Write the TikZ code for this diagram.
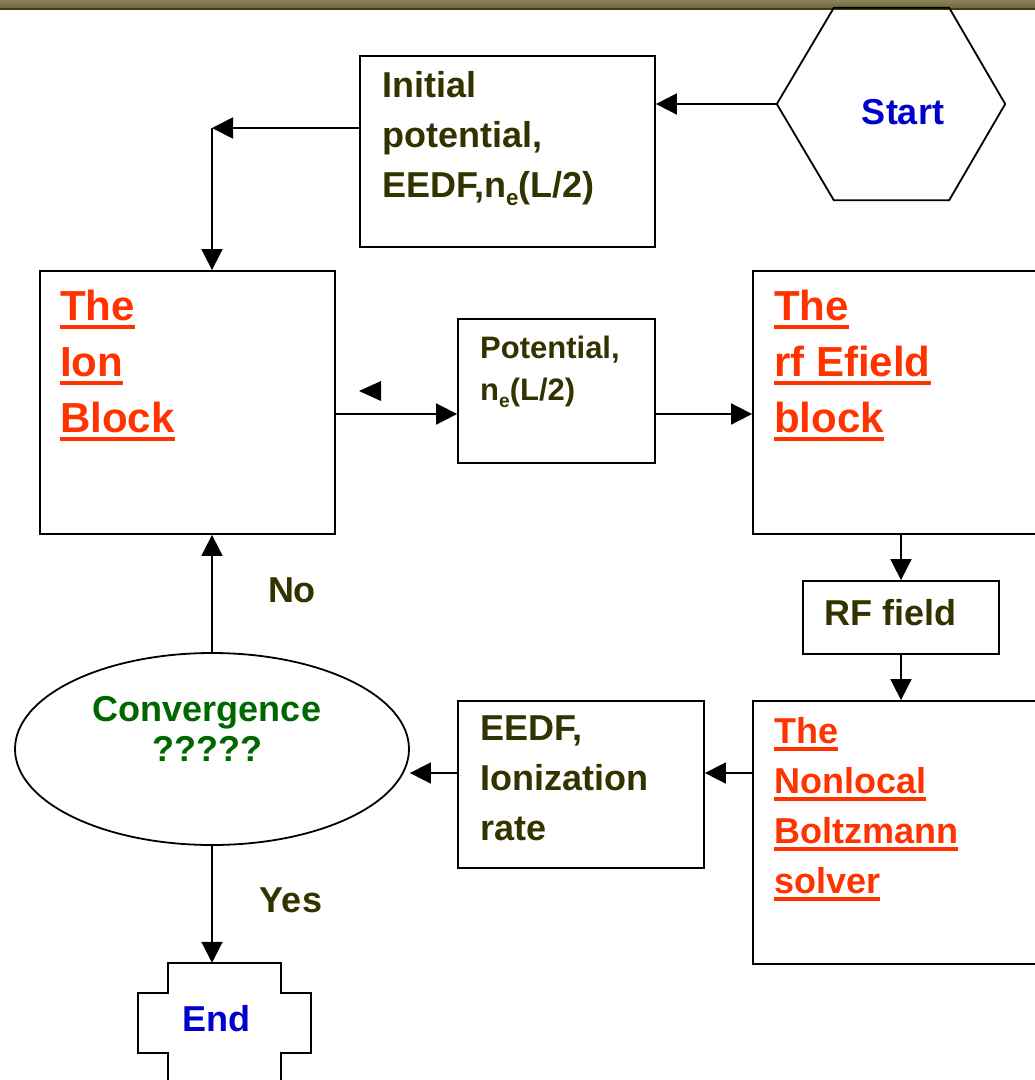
\documentclass[tikz,border=0pt]{standalone}
\usepackage{fontspec}
\setmainfont{Liberation Sans}
\usetikzlibrary{arrows.meta,shapes.geometric,calc}
\definecolor{olivetxt}{RGB}{51,51,0}
\definecolor{redtxt}{RGB}{255,51,0}
\definecolor{bluetxt}{RGB}{0,0,204}
\definecolor{greentxt}{RGB}{0,102,0}
\definecolor{bartop}{RGB}{140,128,86}
\definecolor{barbot}{RGB}{112,106,62}
\definecolor{barline}{RGB}{62,62,16}
\newcommand\ulx[1]{\setbox0=\hbox{#1}\rlap{\rule[-8pt]{\wd0}{4pt}}\box0}
\newcommand\sube{\raisebox{-0.22em}{\scalebox{0.62}{e}}}
\begin{document}
\begin{tikzpicture}[x=1pt,y=-1pt,
  box/.style={draw, line width=1.8pt, inner sep=0pt, rectangle},
  ghost/.style={inner sep=0pt, rectangle},
  arr/.style={line width=1.8pt, -{Triangle[length=21pt,width=21pt]}},
  lbl/.style={inner sep=0pt, align=left, font=\fontsize{36}{50}\selectfont\bfseries, text=olivetxt},
  ttl/.style={inner sep=0pt, align=left, font=\fontsize{42}{56}\selectfont\bfseries, text=redtxt},
  ttlb/.style={inner sep=0pt, align=left, font=\fontsize{36}{50}\selectfont\bfseries, text=redtxt}]
\useasboundingbox (0,0) rectangle (1035,1080);
\clip (0,0) rectangle (1035,1080);
% top bar
\shade[top color=bartop, bottom color=barbot] (0,0) rectangle (1035,7.5);
\fill[barline] (0,7.5) rectangle (1035,10);
% boxes
\node[box, minimum width=295pt, minimum height=191pt] (init) at (507.5,151.5) {};
\node[box, minimum width=295pt, minimum height=263pt] (ion) at (187.5,402.5) {};
\node[box, minimum width=197pt, minimum height=144pt] (pot) at (556.5,391) {};
\node[box, minimum width=287pt, minimum height=263pt] (rf) at (896.5,402.5) {};
\node[box, minimum width=196pt, minimum height=73pt] (rffield) at (901,617.5) {};
\node[box, minimum width=287pt, minimum height=263pt] (nonlocal) at (896.5,832.5) {};
\node[box, minimum width=246pt, minimum height=167pt] (eedf) at (581,784.5) {};
\node[draw, line width=1.8pt, ellipse, inner sep=0pt, minimum width=394pt, minimum height=192pt] (conv) at (212,749) {};
% start hexagon
\node[ghost, minimum width=228pt, minimum height=192pt] (start) at (891,104) {};
\draw[line width=1.8pt] (start.west) -- ($(start.north west)+(57,0)$) -- ($(start.north east)+(-56,0)$)
  -- (start.east) -- ($(start.south east)+(-56,0)$) -- ($(start.south west)+(57,0)$) -- cycle;
% end cross
\node[ghost, minimum width=113pt, minimum height=120pt] (endbox) at (224.5,1023) {};
\draw[line width=1.8pt] (endbox.north west) -- (endbox.north east) -- ++(0,30) -- ++(30,0) -- ++(0,60) -- ++(-30,0)
  -- (endbox.south east) -- (endbox.south west) -- ++(0,-30) -- ++(-30,0) -- ++(0,-60) -- ++(30,0) -- cycle;
% texts
\node[lbl, anchor=north west] (tinit) at (382,71) {Initial\\potential,\\EEDF,n\sube(L/2)};
\node[ttl, anchor=north west] (tion) at (60,290) {\ulx{The}\\\ulx{Ion}\\\ulx{Block}};
\node[ttl, anchor=north west] (trf) at (774,290) {\ulx{The}\\\ulx{rf Efield}\\\ulx{block}};
\node[ttlb, anchor=north west] (tnl) at (774,717) {\ulx{The}\\\ulx{Nonlocal}\\\ulx{Boltzmann}\\\ulx{solver}};
\node[inner sep=0pt, align=left, font=\fontsize{31}{42}\selectfont\bfseries, text=olivetxt, anchor=north west] (tpot) at (480,336) {Potential,\\n\sube(L/2)};
\node[lbl, anchor=north west] (teedf) at (480,716) {EEDF,\\Ionization\\rate};
\node[lbl, anchor=base west] (trff) at (824,625) {RF field};
\node[inner sep=0pt, font=\fontsize{36}{40}\selectfont\bfseries, text=bluetxt, anchor=base] (tstart) at (903,124) {Start};
\node[inner sep=0pt, font=\fontsize{36}{40}\selectfont\bfseries, text=bluetxt, anchor=base] (tend) at (216.5,1031) {End};
\node[inner sep=0pt, align=center, font=\fontsize{36}{40}\selectfont\bfseries, text=greentxt, anchor=north] (tconv) at (207,696) {Convergence\\?????};
\node[lbl, anchor=base] (tno) at (292,602) {No};
\node[lbl, anchor=base] (tyes) at (291,912) {Yes};
% helper coordinates
\coordinate (corner) at (212,128);
\coordinate (ymid) at (0,414);
\coordinate (ylow) at (0,773);
% connectors
\draw[arr] (start.west) -- (start.west -| init.east);
\draw[arr] (init.west |- corner) -- (corner);
\draw[arr] (corner) -- (corner |- ion.north);
\draw[arr] (ion.east |- ymid) -- (pot.west |- ymid);
\draw[arr] (pot.east |- ymid) -- (rf.west |- ymid);
\draw[arr] (rffield.north |- rf.south) -- (rffield.north);
\draw[arr] (rffield.south) -- (rffield.south |- nonlocal.north);
\draw[arr] (nonlocal.west |- ylow) -- (eedf.east |- ylow);
\draw[arr] (eedf.west |- ylow) -- (conv.east |- ylow);
\draw[arr] (conv.north) -- (conv.north |- ion.south);
\draw[arr] (conv.south) -- (conv.south |- endbox.north);
% stray arrowhead
\fill (359,391) -- (381,381) -- (381,401) -- cycle;
\end{tikzpicture}
\end{document}
